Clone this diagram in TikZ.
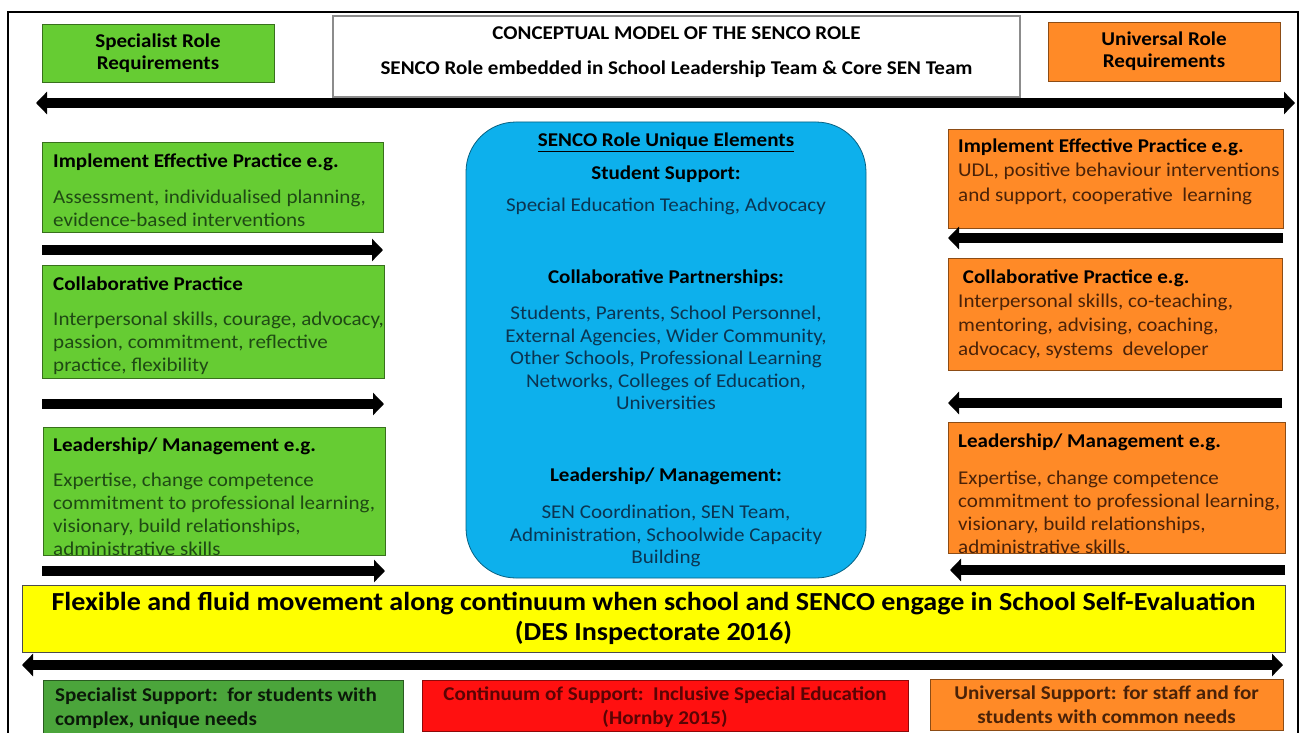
\documentclass[tikz,border=0pt]{standalone}
\usepackage{fontspec}
\setmainfont{Carlito}[FakeStretch=1.08]
\usetikzlibrary{arrows.meta,positioning}

\definecolor{rolegreen}{HTML}{66CC33}
\definecolor{supgreen}{HTML}{4BA53B}
\definecolor{roleorange}{HTML}{FF8A27}
\definecolor{roleblue}{HTML}{0DB0EC}
\definecolor{rolered}{HTML}{FF1010}
\definecolor{flexyellow}{HTML}{FFFF00}
\definecolor{greentext}{HTML}{1F4A14}
\definecolor{orangetext}{HTML}{4A2208}
\definecolor{bluetext}{HTML}{0B3552}
\definecolor{redtext}{HTML}{5A0404}

\newcommand\bodyfont{\fontsize{19.5}{23}\selectfont}
\newcommand\headfont{\fontsize{19.5}{22}\selectfont\bfseries}
\newcommand\hd[1]{\textcolor{black}{\textbf{#1}}}

\tikzset{
  box/.style={draw=#1!55!black, fill=#1, line width=0.8pt, anchor=north west,
    inner sep=0pt, outer sep=0pt},
  txt/.style={anchor=north west, align=left, inner sep=0pt, font=\bodyfont},
  fatarrow/.style={line width=10pt, -{Triangle[length=11pt,width=22pt]}},
  twoway/.style={line width=10pt, {Triangle[length=11pt,width=22pt]}-{Triangle[length=11pt,width=22pt]}},
}

\begin{document}
\begin{tikzpicture}[x=1pt,y=-1pt]
  \useasboundingbox (0,0) rectangle (1303,733);
  \clip (0,0) rectangle (1303,733);

  % outer frame
  \draw[line width=2.5pt] (8,750) -- (8,12) -- (1298,12) -- (1298,750);

  % top row
  \node[box=rolegreen, minimum width=232pt, minimum height=58pt, font=\headfont, align=center]
    (srr) at (42,24) {Specialist Role\\Requirements};
  \node[box=white, draw=black!45, line width=1.5pt, minimum width=687pt, minimum height=81pt]
    (title) at (333,16) {};
  \node[font=\headfont, align=center, anchor=north] (titlet) at ([yshift=-7pt]title.north)
    {CONCEPTUAL MODEL OF THE SENCO ROLE\\[13pt]
     SENCO Role embedded in School Leadership Team \& Core SEN Team};
  \node[box=roleorange, minimum width=232pt, minimum height=59pt, font=\headfont, align=center]
    (urr) at (1048,22) {Universal Role\\Requirements};

  \coordinate (topL) at (36,103);
  \coordinate (topR) at (1295,103);
  \draw[twoway] (topL) -- (topR);

  % specialist column
  \node[box=rolegreen, minimum width=341pt, minimum height=90pt] (gie) at (42,142) {};
  \node[txt, text=greentext] (giet) at ([shift={(11pt,-12pt)}]gie.north west)
    {\hd{Implement Effective Practice e.g.}\\[13pt]
     Assessment, individualised planning,\\
     evidence-based interventions};
  \draw[fatarrow] ([yshift=-18pt]gie.south west) -- ([yshift=-18pt]gie.south east);

  \node[box=rolegreen, minimum width=342pt, minimum height=113pt] (gcp) at (42,265) {};
  \node[txt, text=greentext] (gcpt) at ([shift={(11pt,-12pt)}]gcp.north west)
    {\hd{Collaborative Practice}\\[12pt]
     Interpersonal skills, courage, advocacy,\\
     passion, commitment, reflective\\
     practice, flexibility};
  \draw[fatarrow] ([yshift=-26pt]gcp.south west) -- ([yshift=-26pt]gcp.south east);

  \node[box=rolegreen, minimum width=342pt, minimum height=128pt] (glm) at (43,427) {};
  \node[txt, text=greentext] (glmt) at ([shift={(10pt,-11pt)}]glm.north west)
    {\hd{Leadership/ Management e.g.}\\[12pt]
     Expertise, change competence\\
     commitment to professional learning,\\
     visionary, build relationships,\\
     administrative skills};
  \draw[fatarrow] ([shift={(-1pt,-16pt)}]glm.south west) -- ([yshift=-16pt]glm.south east);

  % universal column
  \node[box=roleorange, minimum width=335pt, minimum height=99pt] (oie) at (948,129) {};
  \node[txt, text=orangetext] (oiet) at ([shift={(10pt,-10pt)}]oie.north west)
    {\hd{Implement Effective Practice e.g.}\\[1pt]
     UDL, positive behaviour interventions\\[2pt]
     and support, cooperative\ \ learning};
  \draw[fatarrow] ([yshift=-10pt]oie.south east) -- ([yshift=-10pt]oie.south west);

  \node[box=roleorange, minimum width=334pt, minimum height=112pt] (ocp) at (948,258) {};
  \node[txt, text=orangetext] (ocpt) at ([shift={(10pt,-12pt)}]ocp.north west)
    {\hd{\ Collaborative Practice e.g.}\\[1pt]
     Interpersonal skills, co-teaching,\\[1pt]
     mentoring, advising, coaching,\\[1pt]
     advocacy, systems\ \ developer};
  \draw[fatarrow] ([yshift=-33pt]ocp.south east) -- ([yshift=-33pt]ocp.south west);

  \node[box=roleorange, minimum width=337pt, minimum height=131pt] (olm) at (948,422) {};
  \node[txt, text=orangetext] (olmt) at ([shift={(10pt,-12pt)}]olm.north west)
    {\hd{Leadership/ Management e.g.}\\[14pt]
     Expertise, change competence\\
     commitment to professional learning,\\
     visionary, build relationships,\\
     administrative skills.};
  \draw[fatarrow] ([yshift=-17pt]olm.south east) -- ([shift={(2pt,-17pt)}]olm.south west);

  % unique elements
  \node[box=roleblue, rounded corners=50pt, minimum width=400pt, minimum height=456pt]
    (senco) at (466,122) {};
  \node[anchor=north, align=center, inner sep=0pt, font=\fontsize{19.5}{22.5}\selectfont, text=bluetext]
    (sencot) at ([yshift=-11pt]senco.north)
    {\hd{\underline{SENCO Role Unique Elements}}\\[10pt]
     \hd{Student Support:}\\[10pt]
     Special Education Teaching, Advocacy\\[49pt]
     \hd{Collaborative Partnerships:}\\[14pt]
     Students, Parents, School Personnel,\\
     External Agencies, Wider Community,\\
     Other Schools, Professional Learning\\
     Networks, Colleges of Education,\\
     Universities\\[49pt]
     \hd{Leadership/ Management:}\\[15pt]
     SEN Coordination, SEN Team,\\
     Administration, Schoolwide Capacity\\
     Building};

  % self-evaluation banner
  \node[box=flexyellow, draw=black!70, minimum width=1263pt, minimum height=67pt,
    font=\fontsize{26}{30}\selectfont\bfseries, align=center]
    (flex) at (22,585)
    {Flexible and fluid movement along continuum when school and SENCO engage in School Self-Evaluation\\
     (DES Inspectorate 2016)};

  \coordinate (botL) at (22,665);
  \coordinate (botR) at (1283,665);
  \draw[twoway] (botL) -- (botR);

  % continuum of support
  \node[box=supgreen, minimum width=360pt, minimum height=56pt] (ssp) at (43,680) {};
  \node[txt, font=\headfont, text=black!85!supgreen] (sspt) at ([shift={(12pt,-8pt)}]ssp.north west)
    {Specialist Support:\ \ for students with\\[2pt]complex, unique needs};
  \node[box=rolered, minimum width=486pt, minimum height=51pt] (cos) at (422,680) {};
  \node[anchor=north, align=center, inner sep=0pt, font=\headfont, text=redtext]
    (cost) at ([yshift=-7pt]cos.north)
    {Continuum of Support:\ \ Inclusive Special Education\\[2pt](Hornby 2015)};
  \node[box=roleorange, minimum width=353pt, minimum height=51pt] (usp) at (930,679) {};
  \node[anchor=north, align=center, inner sep=0pt, font=\headfont, text=orangetext]
    (uspt) at ([yshift=-7pt]usp.north)
    {Universal Support: for staff and for\\[2pt]students with common needs};
\end{tikzpicture}
\end{document}
